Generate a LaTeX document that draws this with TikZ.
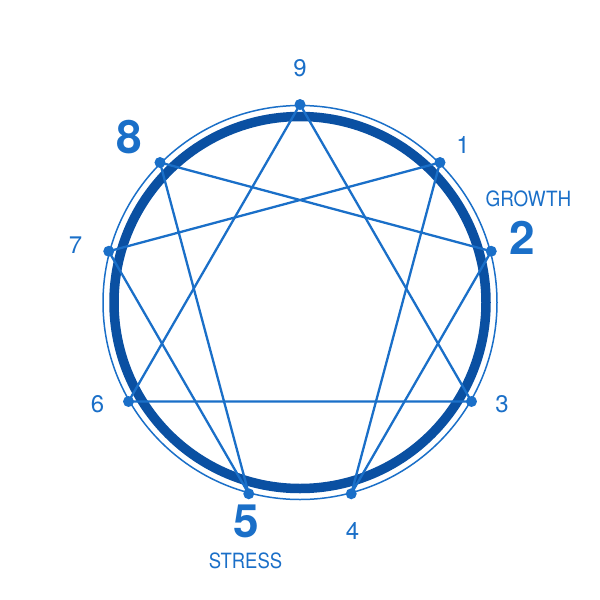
\documentclass[tikz,border=0pt]{standalone}
\usepackage{fontspec}
\setmainfont{TeX Gyre Heros}
\usetikzlibrary{calc}
\definecolor{ringblue}{HTML}{0A50A2}
\definecolor{lineblue}{HTML}{1A6FC8}
\begin{document}
\begin{tikzpicture}[x=1pt,y=-1pt,
  ring/.style={draw=ringblue,line width=9.5pt},
  thinring/.style={draw=lineblue,line width=1.5pt},
  conn/.style={draw=lineblue,line width=2.3pt,line join=round},
  dotn/.style={circle,fill=lineblue,inner sep=0pt,minimum size=11pt},
  num/.style={text=lineblue,inner sep=0pt,font=\fontsize{24}{24}\selectfont},
  bignum/.style={text=lineblue,inner sep=0pt,font=\fontsize{46}{46}\selectfont\bfseries},
  word/.style={text=lineblue,inner sep=0pt,font=\fontsize{21}{21}\selectfont}]
\useasboundingbox (0,0) rectangle (600,600);
\coordinate (c) at (300,302.5);
\draw[thinring] (c) circle[radius=197pt];
\draw[ring] (c) circle[radius=186pt];
\foreach \n/\a in {9/-90,1/-45,2/-15,3/30,4/75,5/105,6/150,7/195,8/225}
  \coordinate (p\n) at ($(c)+(\a:198)$);
\draw[conn] (p9) -- (p3) -- (p6) -- cycle;
\draw[conn] (p1) -- (p4) -- (p2) -- (p8) -- (p5) -- (p7) -- cycle;
\foreach \n in {1,...,9}
  \node[dotn] (d\n) at (p\n) {};
\node[num] (l9) at (300,68.5) {9};
\node[num] (l1) at (463,144.5) {1};
\node[bignum] (l2) at (522.5,237.5) {2};
\node[word] (lg) at (528.5,198.5) {\scalebox{0.9}[1]{GROWTH}};
\node[num] (l3) at (502,404.5) {3};
\node[num] (l4) at (352.5,530.5) {4};
\node[bignum] (l5) at (246.5,521.5) {5};
\node[word] (ls) at (245.5,560.5) {\scalebox{0.88}[1]{STRESS}};
\node[num] (l6) at (97.5,404.5) {6};
\node[num] (l7) at (75.5,245.5) {7};
\node[bignum] (l8) at (129,137) {8};
\end{tikzpicture}
\end{document}
